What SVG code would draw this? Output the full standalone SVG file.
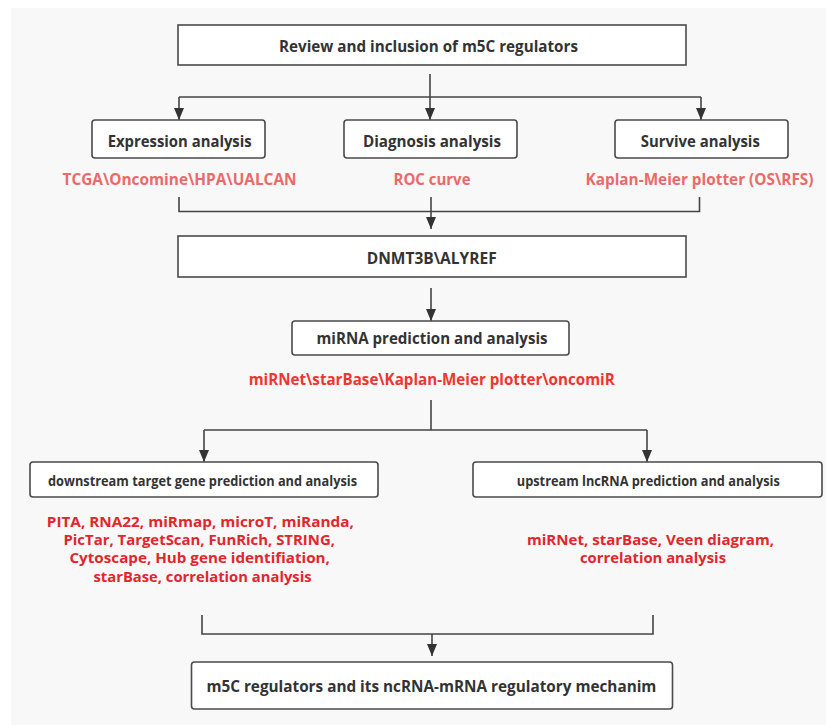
<svg xmlns="http://www.w3.org/2000/svg" width="826" height="725" viewBox="0 0 826 725">
<defs>
<marker id="ah" viewBox="0 0 12 10" refX="12" refY="5" markerWidth="12" markerHeight="10" markerUnits="userSpaceOnUse" orient="auto">
<path d="M0,0 L12,5 L0,10 Z" fill="#333"/>
</marker>
<style>
.box{fill:#fff;stroke:#4a4a4a;stroke-width:1.6}
.t{font-family:"Open Sans","Noto Sans","Liberation Sans",sans-serif;font-weight:700;fill:#333;text-anchor:middle}
.r1{font-family:"Open Sans","Noto Sans","Liberation Sans",sans-serif;font-weight:700;fill:#ea6a6a;text-anchor:middle}
.r2{font-family:"Open Sans","Noto Sans","Liberation Sans",sans-serif;font-weight:700;fill:#ee3530;text-anchor:middle}
.r3{font-family:"Open Sans","Noto Sans","Liberation Sans",sans-serif;font-weight:700;fill:#e2262c;text-anchor:middle}
.ln{fill:none;stroke:#444;stroke-width:1.6}
.ar{fill:none;stroke:#444;stroke-width:1.6;marker-end:url(#ah)}
</style>
</defs>
<rect x="0" y="0" width="826" height="725" fill="#fff"/>
<rect x="11" y="8" width="815" height="717" fill="#f8f8f8"/>

<g id="connectors">
<path class="ar" d="M430,74 V120"/>
<path class="ln" d="M179,97 H701"/>
<path class="ar" d="M179,97 V120"/>
<path class="ar" d="M701,97 V120"/>
<path class="ln" d="M179,197 V211.5 H699.5 V197"/>
<path class="ar" d="M431,197 V229"/>
<path class="ar" d="M431,288 V321"/>
<path class="ln" d="M431,400 V430"/>
<path class="ln" d="M204,430 H647"/>
<path class="ar" d="M204,430 V462"/>
<path class="ar" d="M647,430 V462"/>
<path class="ln" d="M202,615 V634 H653 V615"/>
<path class="ar" d="M432,634 V656"/>
</g>

<g id="review">
<rect class="box" x="178" y="25" width="508" height="40"/>
<text class="t" x="428.5" y="51.5" font-size="16" textLength="299" lengthAdjust="spacingAndGlyphs">Review and inclusion of m5C regulators</text>
</g>

<g id="expression">
<rect class="box" x="92" y="120" width="173" height="38" rx="3"/>
<text class="t" x="179.7" y="146.5" font-size="16" textLength="144" lengthAdjust="spacingAndGlyphs">Expression analysis</text>
<text class="r1" x="179.5" y="185" font-size="16.5" textLength="234" lengthAdjust="spacingAndGlyphs">TCGA\Oncomine\HPA\UALCAN</text>
</g>

<g id="diagnosis">
<rect class="box" x="344" y="120" width="173" height="38" rx="3"/>
<text class="t" x="432" y="146.5" font-size="16" textLength="138" lengthAdjust="spacingAndGlyphs">Diagnosis analysis</text>
<text class="r1" x="432" y="185" font-size="16.5" textLength="77" lengthAdjust="spacingAndGlyphs">ROC curve</text>
</g>

<g id="survive">
<rect class="box" x="615" y="120" width="173" height="38" rx="3"/>
<text class="t" x="700.3" y="146.5" font-size="16" textLength="119" lengthAdjust="spacingAndGlyphs">Survive analysis</text>
<text class="r1" x="699.5" y="185" font-size="16.5" textLength="228" lengthAdjust="spacingAndGlyphs">Kaplan-Meier plotter (OS\RFS)</text>
</g>

<g id="dnmt">
<rect class="box" x="178" y="236" width="508" height="41"/>
<text class="t" x="431.7" y="264" font-size="16" textLength="130" lengthAdjust="spacingAndGlyphs">DNMT3B\ALYREF</text>
</g>

<g id="mirna">
<rect class="box" x="292" y="321" width="277" height="34" rx="3"/>
<text class="t" x="432" y="344" font-size="16" textLength="231" lengthAdjust="spacingAndGlyphs">miRNA prediction and analysis</text>
<text class="r2" x="431.7" y="385" font-size="16" textLength="366" lengthAdjust="spacingAndGlyphs">miRNet\starBase\Kaplan-Meier plotter\oncomiR</text>
</g>

<g id="downstream">
<rect class="box" x="30" y="462" width="348" height="35" rx="3"/>
<text class="t" x="202.5" y="485.5" font-size="14.5" textLength="309" lengthAdjust="spacingAndGlyphs">downstream target gene prediction and analysis</text>
<text class="r3" x="200.3" y="526.5" font-size="15" textLength="307" lengthAdjust="spacingAndGlyphs">PITA, RNA22, miRmap, microT, miRanda,</text>
<text class="r3" x="199.2" y="545" font-size="15" textLength="271.5" lengthAdjust="spacingAndGlyphs">PicTar, TargetScan, FunRich, STRING,</text>
<text class="r3" x="199.7" y="563.3" font-size="15" textLength="260.5" lengthAdjust="spacingAndGlyphs">Cytoscape, Hub gene identifiation,</text>
<text class="r3" x="202.5" y="581.7" font-size="15" textLength="218" lengthAdjust="spacingAndGlyphs">starBase, correlation analysis</text>
</g>

<g id="upstream">
<rect class="box" x="473" y="462" width="349" height="35" rx="3"/>
<text class="t" x="648.3" y="485.5" font-size="14.5" textLength="263" lengthAdjust="spacingAndGlyphs">upstream lncRNA prediction and analysis</text>
<text class="r3" x="650.5" y="545" font-size="15" textLength="247" lengthAdjust="spacingAndGlyphs">miRNet, starBase, Veen diagram,</text>
<text class="r3" x="653" y="563.3" font-size="15" textLength="146" lengthAdjust="spacingAndGlyphs">correlation analysis</text>
</g>

<g id="final">
<rect class="box" x="191.5" y="662" width="481" height="47" rx="3"/>
<text class="t" x="431.4" y="691.5" font-size="16" textLength="450" lengthAdjust="spacingAndGlyphs">m5C regulators and its ncRNA-mRNA regulatory mechanim</text>
</g>
</svg>
